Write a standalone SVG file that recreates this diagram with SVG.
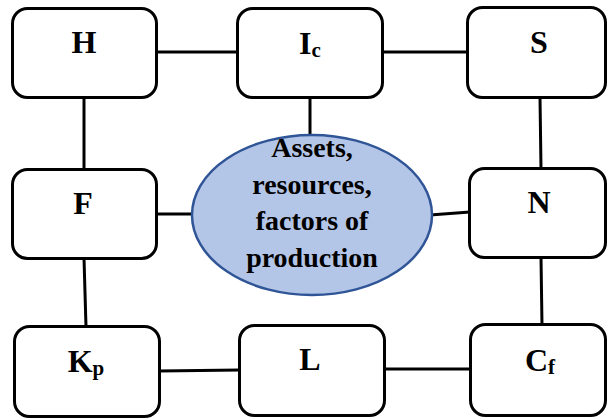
<svg xmlns="http://www.w3.org/2000/svg" width="609" height="419" viewBox="0 0 609 419">
<style>
.box{fill:#fff;stroke:#000;stroke-width:3}
.lbl{font-family:'Liberation Serif','Times New Roman','DejaVu Serif',serif;font-weight:bold;font-size:32px;text-anchor:middle;fill:#000}
.sub{font-size:21px}
.ctr{font-family:'Liberation Serif','Times New Roman','DejaVu Serif',serif;font-weight:bold;font-size:28px;text-anchor:middle;fill:#000}
.con line{stroke:#000;stroke-width:3;stroke-linecap:butt}
</style>
<rect width="609" height="419" fill="#fff"/>
<g id="connectors" class="con">
<line x1="156" y1="52" x2="238" y2="52"/>
<line x1="382" y1="52" x2="468" y2="52"/>
<line x1="84" y1="97" x2="84" y2="170"/>
<line x1="310" y1="97" x2="310" y2="137"/>
<line x1="540" y1="97" x2="541" y2="169"/>
<line x1="156" y1="214" x2="193" y2="214"/>
<line x1="430" y1="215" x2="470" y2="212"/>
<line x1="84" y1="258" x2="86" y2="327"/>
<line x1="541" y1="257" x2="542" y2="326"/>
<line x1="159" y1="371" x2="240" y2="370"/>
<line x1="384" y1="369" x2="472" y2="369"/>
</g>
<g id="center">
<ellipse cx="312" cy="215" rx="120" ry="80" fill="#b4c6e7" stroke="#2f5597" stroke-width="2.5"/>
<text class="ctr" font-family="Liberation Serif, Times New Roman, serif" x="312" y="157">Assets,</text>
<text class="ctr" font-family="Liberation Serif, Times New Roman, serif" x="312" y="194">resources,</text>
<text class="ctr" font-family="Liberation Serif, Times New Roman, serif" x="312" y="230">factors of</text>
<text class="ctr" font-family="Liberation Serif, Times New Roman, serif" x="312" y="267">production</text>
</g>
<g id="node-H"><rect class="box" x="12.5" y="8.5" width="144" height="89" rx="15"/><text class="lbl" x="84" y="53">H</text></g>
<g id="node-Ic"><rect class="box" x="237.5" y="8.5" width="145" height="89" rx="15"/><text class="lbl" x="310" y="54">I<tspan class="sub" dy="3">c</tspan></text></g>
<g id="node-S"><rect class="box" x="467.5" y="7.5" width="138" height="90" rx="15"/><text class="lbl" x="539" y="53">S</text></g>
<g id="node-F"><rect class="box" x="12.5" y="169.5" width="144" height="89" rx="15"/><text class="lbl" x="83" y="214">F</text></g>
<g id="node-N"><rect class="box" x="469.5" y="168.5" width="136" height="89" rx="15"/><text class="lbl" x="539" y="213">N</text></g>
<g id="node-Kp"><rect class="box" x="14.5" y="326.5" width="145" height="90" rx="15"/><text class="lbl" x="86" y="372">K<tspan class="sub" dy="3">p</tspan></text></g>
<g id="node-L"><rect class="box" x="239.5" y="325.5" width="145" height="90" rx="15"/><text class="lbl" x="310" y="370">L</text></g>
<g id="node-Cf"><rect class="box" x="470.5" y="324.5" width="135" height="91" rx="15"/><text class="lbl" x="540" y="371">C<tspan class="sub" dy="3">f</tspan></text></g>
</svg>
